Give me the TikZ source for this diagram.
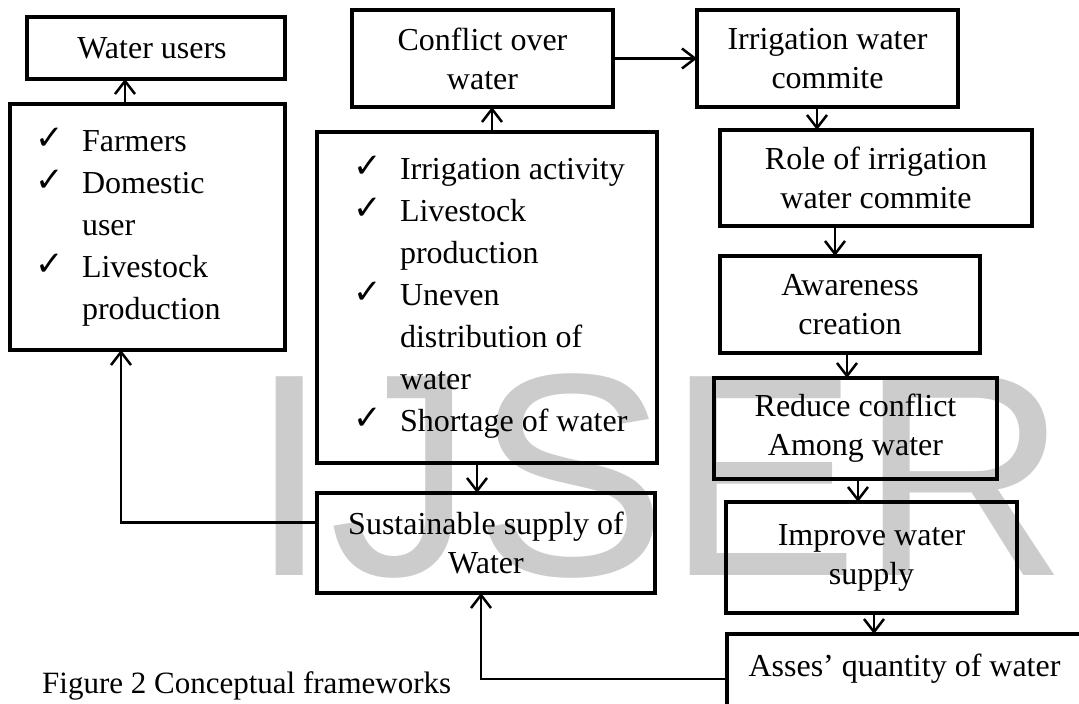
\documentclass[tikz,border=0pt]{standalone}
\usepackage{fontspec}
\setmainfont{Liberation Serif}
\newfontfamily\wmfont{Liberation Sans}
\newfontfamily\symfont{DejaVu Sans}
\usetikzlibrary{positioning,arrows.meta}
\definecolor{wmgray}{RGB}{204,204,204}
\newcommand{\chk}[1]{\makebox[47pt][l]{\raisebox{2pt}{\symfont\fontsize{34}{34}\selectfont ✓}}\mbox{#1}}
\newcommand{\cnt}[1]{\hspace*{47pt}\mbox{#1}}

\begin{document}
\begin{tikzpicture}
[
    x = 1pt, y = -1pt,
    node distance = 25pt and 84pt,
    boxstyle/.style  = {draw,
                        line width=4.5pt,
                        inner sep=0pt,
                        outer sep=0pt,
                        align=center,
                        font=\fontsize{32}{39}\selectfont},
    liststyle/.style = {boxstyle,
                        align=flush left,
                        inner xsep=25pt,
                        font=\fontsize{32}{42}\selectfont},
    arr/.style       = {line width=2.5pt,
                        -{Straight Barb[length=13pt,width=20pt]}}
]
\useasboundingbox (0,0) rectangle (1079,704);

\node (mark) [anchor=base west, inner sep=0pt, text=wmgray,
              font=\wmfont\fontsize{289}{289}\selectfont] at (249,575) {IJSER};

\node (wusers) [boxstyle, minimum width=258pt, minimum height=62pt] at (156,48) {
Water users
};
\node (ulist) [liststyle, text width=225pt, minimum height=246pt,
               below=of wusers, xshift=-8.5pt] {
\chk{Farmers}\\ \chk{Domestic}\\ \cnt{user}\\ \chk{Livestock}\\ \cnt{production}
};

\draw[arr] ([xshift=-22.5]ulist.north) -- ([xshift=-22.5]ulist.north |- wusers.south);

\node (conflict) [boxstyle, minimum width=261pt, minimum height=97pt] at (482.5,58.5) {
Conflict over\\ water
};
\node (clist) [liststyle, inner xsep=36pt, text width=268pt, minimum height=331pt,
               below=of conflict, xshift=4.5pt] {
\chk{Irrigation activity}\\ \chk{Livestock}\\ \cnt{production}\\ \chk{Uneven}\\
\cnt{distribution of}\\ \cnt{water}\\ \chk{Shortage of water}
};

\draw[arr] ([xshift=5]clist.north) -- ([xshift=5]clist.north |- conflict.south);

\node (sustain) [boxstyle, minimum width=338pt, minimum height=100pt,
                 below=30pt of clist, xshift=-1pt] {
Sustainable supply of\\ Water
};

\draw[arr] ([xshift=-10]clist.south) -- ([xshift=-10]clist.south |- sustain.north);
\draw[arr] (sustain.173) -| ([xshift=-26.5]ulist.south);

\node (ircom) [boxstyle, minimum width=261pt, minimum height=97pt, right=of conflict] {
Irrigation water\\ commite
};

\draw[arr] (conflict.east) -- (ircom.west);

\node (role) [boxstyle, minimum width=312pt, minimum height=96pt,
              below=23pt of ircom, xshift=48.5pt] {
Role of irrigation\\ water commite
};

\draw[arr] ([xshift=-10.5]ircom.south) -- ([xshift=-10.5]ircom.south |- role.north);

\node (aware) [boxstyle, minimum width=260pt, minimum height=97pt,
               below=30pt of role, xshift=-26pt] {
Awareness\\ creation
};

\draw[arr] ([xshift=-41]role.south) -- ([xshift=-41]role.south |- aware.north);

\node (reduce) [boxstyle, minimum width=283pt, minimum height=101pt,
                below=of aware, xshift=5.5pt] {
Reduce conflict\\ Among water
};

\draw[arr] ([xshift=-3]aware.south) -- ([xshift=-3]aware.south |- reduce.north);

\node (improve) [boxstyle, minimum width=291pt, minimum height=111pt,
                 below=23pt of reduce, xshift=16pt] {
Improve water\\ supply
};

\draw[arr] ([xshift=2.5]reduce.south) -- ([xshift=2.5]reduce.south |- improve.north);

\node (asses) [boxstyle, minimum width=363pt, minimum height=90pt, text depth=28pt,
               below=21pt of improve, xshift=37pt] {
Asses’ quantity of water
};

\draw[arr] ([xshift=2.5]improve.south) -- ([xshift=2.5]improve.south |- asses.north);
\draw[arr] (asses.west) -| ([xshift=-5]sustain.south);

\node (caption) [anchor=base west, inner sep=0pt, font=\fontsize{31}{36}\selectfont]
      at (42,693) {Figure 2 Conceptual frameworks};

\end{tikzpicture}
\end{document}
